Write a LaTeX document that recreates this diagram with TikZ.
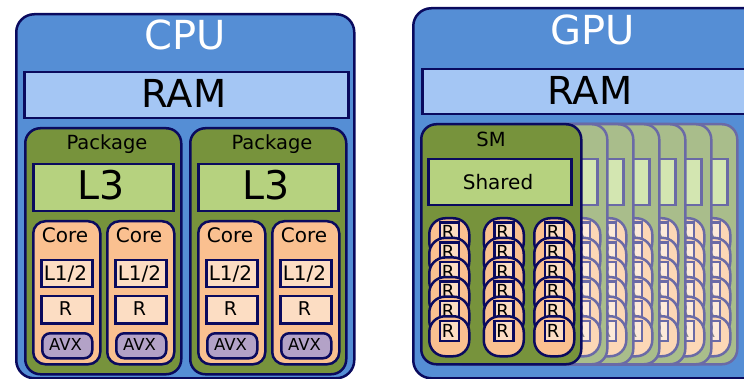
\documentclass[tikz,border=0pt]{standalone}
\usepackage{fontspec}
\setmainfont{DejaVu Sans}
\definecolor{bgblue}{HTML}{558ED5}
\definecolor{ramblue}{HTML}{A4C6F4}
\definecolor{navy}{HTML}{0A0A5E}
\definecolor{pkggreen}{HTML}{77933C}
\definecolor{cachegreen}{HTML}{B6D27F}
\definecolor{corepeach}{HTML}{FAC090}
\definecolor{regpeach}{HTML}{FCDDC3}
\definecolor{avxpurple}{HTML}{B3A2C7}
\definecolor{fgreen}{HTML}{A9BD8B}
\definecolor{fshared}{HTML}{D3E6B1}
\definecolor{fcore}{HTML}{FCD7B6}
\definecolor{freg}{HTML}{FDEADA}
\definecolor{fborder}{HTML}{6A6AA6}
\definecolor{ftext}{HTML}{8A8A8A}
\newcommand\fsz[1]{\fontsize{#1}{#1}\selectfont}
% SM unit: #1 dx, #2 body, #3 shared, #4 core, #5 reg, #6 border, #7 text colour, #8 name prefix, #9 columns
\newcommand\smunit[9]{%
  \node[box, draw=#6, fill=#2, rounded corners=15pt, minimum width=160pt, minimum height=240pt] (#8body) at (420+#1,123) {};
  \node[box, draw=#6, fill=#3, minimum width=143pt, minimum height=46pt] (#8shared) at (427+#1,158) {};
  \foreach \c/\cx in {#9} {
    \foreach \i in {0,...,5} {
      \node[box, draw=#6, fill=#4, rounded corners=16pt, minimum width=40pt, minimum height=40pt] (#8core\c\i) at (\cx+#1,217+19.6*\i) {};
      \node[box, draw=#6, fill=#5, minimum width=19pt, minimum height=20pt] (#8reg\c\i) at (\cx+10.5+#1,221.5+19.6*\i) {};
      \node[txt, text=#7, font=\fsz{18}] (#8rt\c\i) at (\cx+20+#1,337-19.6*5+19.6*\i) {R};
    }
  }
}
\begin{document}
\begin{tikzpicture}[x=1pt,y=-1pt,
  box/.style={draw=navy, line width=2.5pt, inner sep=0pt, anchor=north west},
  txt/.style={inner sep=0pt, anchor=base}]
\useasboundingbox (0,0) rectangle (744,379);
\clip (0,0) rectangle (744,379);
\fill[white] (0,0) rectangle (744,379);
% ---------------- CPU ----------------
\node[box, fill=bgblue, rounded corners=18pt, minimum width=338pt, minimum height=364pt] (cpu) at (15,13) {};
\node[txt, text=white, font=\fsz{40}] (cputitle) at (185,50) {CPU};
\node[box, fill=ramblue, minimum width=324pt, minimum height=46pt] (cpuram) at (23,71) {};
\node[txt, font=\fsz{38.5}] (cpuramtxt) at (184,108) {RAM};
\foreach \p/\px in {1/24, 2/189} {
  \node[box, fill=pkggreen, rounded corners=15pt, minimum width=156pt, minimum height=246pt] (pkg\p) at (\px,127) {};
  \node[txt, font=\fsz{19.5}] (pkgtxt\p) at (\px+83,150) {Package};
  \node[box, fill=cachegreen, minimum width=140pt, minimum height=47pt] (lthree\p) at (\px+8,163) {};
  \node[txt, font=\fsz{39.5}] (lthreetxt\p) at (\px+77,200) {L3};
  \foreach \k/\kx in {1/8, 2/82} {
    \node[box, fill=corepeach, rounded corners=12pt, minimum width=67pt, minimum height=143pt] (core\p\k) at (\px+\kx,220) {};
    \node[txt, font=\fsz{20}] (coretxt\p\k) at (\px+\kx+33,243) {Core};
    \node[box, fill=regpeach, minimum width=51pt, minimum height=27pt] (lone\p\k) at (\px+\kx+8,259) {};
    \node[txt, font=\fsz{20}] (lonetxt\p\k) at (\px+\kx+33.5,280) {L1/2};
    \node[box, fill=regpeach, minimum width=51pt, minimum height=27pt] (reg\p\k) at (\px+\kx+8,295) {};
    \node[txt, font=\fsz{19}] (regtxt\p\k) at (\px+\kx+33.5,316) {R};
    \node[box, fill=avxpurple, rounded corners=8pt, minimum width=50pt, minimum height=25pt] (avx\p\k) at (\px+\kx+9,332) {};
    \node[txt, font=\fsz{16.5}] (avxtxt\p\k) at (\px+\kx+33.5,350.5) {AVX};
  }
}
% ---------------- GPU ----------------
\node[box, fill=bgblue, rounded corners=18pt, minimum width=370pt, minimum height=370pt] (gpu) at (412,7) {};
\node[txt, text=white, font=\fsz{40}] (gputitle) at (593,45) {GPU};
\node[box, fill=ramblue, minimum width=360pt, minimum height=45pt] (gpuram) at (421,68) {};
\node[txt, font=\fsz{38.5}] (gpuramtxt) at (590,105) {RAM};
% faded SMs, back to front
\foreach \k in {6,5,4,3,2,1} {
  \smunit{26*\k}{fgreen}{fshared}{fcore}{freg}{fborder}{ftext}{f\k}{3/533}
}
% front SM
\smunit{0}{pkggreen}{cachegreen}{corepeach}{regpeach}{navy}{black}{m}{1/428, 2/482.5, 3/533}
\node[txt, font=\fsz{19.5}] (smtxt) at (491,147) {SM};
\node[txt, font=\fsz{20}] (sharedtxt) at (498,190) {Shared};
\end{tikzpicture}
\end{document}
